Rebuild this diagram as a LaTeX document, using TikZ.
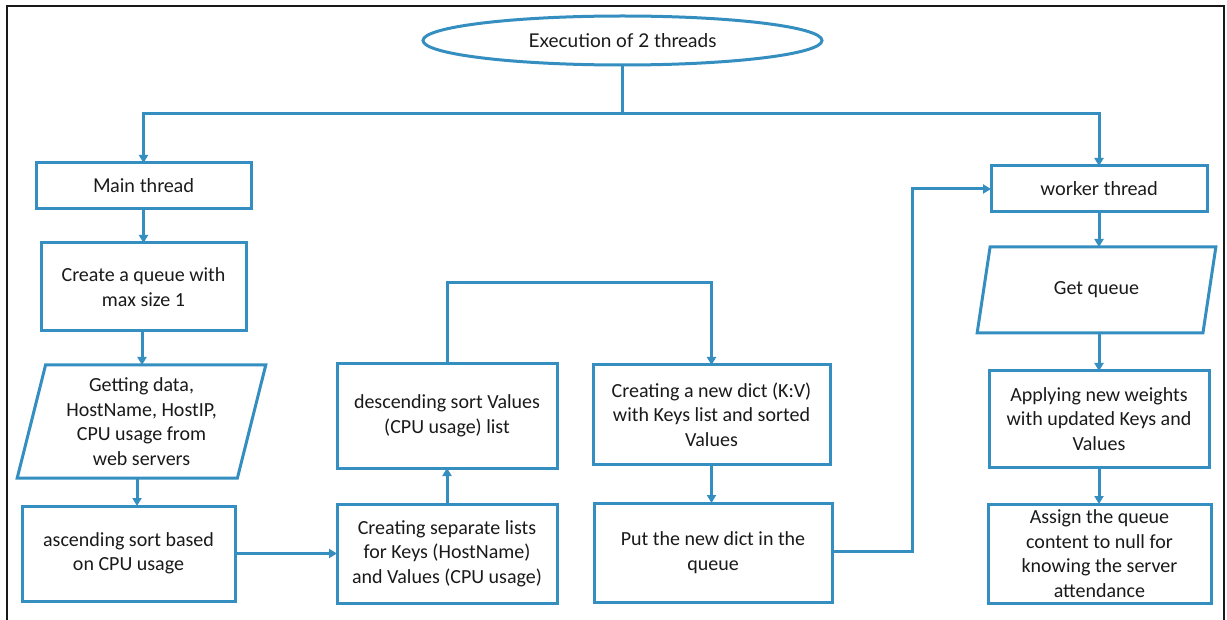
\documentclass[tikz,border=0pt]{standalone}
\usepackage{fontspec}
\setmainfont{Carlito}
\newfontfamily\headfont{Lato}
\usetikzlibrary{shapes.geometric,arrows.meta}
\definecolor{flowblue}{RGB}{52,143,192}
\definecolor{inkgray}{RGB}{26,26,26}
\begin{document}
\begin{tikzpicture}[x=1pt,y=-1pt,
  base/.style={draw=flowblue,line width=3pt,text=inkgray,align=center,
    inner sep=2pt,outer sep=0pt,font=\fontsize{20}{24.5}\selectfont},
  procbox/.style={base,rectangle},
  headbox/.style={base,rectangle,font=\headfont\fontsize{19}{23}\selectfont},
  iobox/.style={base,trapezium,trapezium stretches=true,
    trapezium left angle=#1,trapezium right angle=180-#1},
  startnode/.style={base,ellipse,font=\headfont\fontsize{19}{23}\selectfont},
  flow/.style={draw=flowblue,line width=3pt,-{Triangle[length=8pt,width=9pt]}},
  link/.style={draw=flowblue,line width=3pt}]
\useasboundingbox (0,0) rectangle (1227,620);
\fill[white] (0,0) rectangle (1227,620);
% frame, open at the bottom
\draw[black!90,line width=2pt] (7,620) -- (7,6) -- (1224,6) -- (1224,620);

% start
\node[startnode,minimum width=399pt,minimum height=49pt] (exec) at (622.5,40.5) {Execution of 2 threads};

% main thread column
\node[headbox,minimum width=215pt,minimum height=46pt] (main) at (143.5,186) {Main thread};
\node[procbox,minimum width=205pt,minimum height=88pt] (create) at (143.5,287) {Create a queue with\\max size 1};
\node[iobox=76,minimum width=249pt,minimum height=113pt] (getdata) at (141.5,421.5) {Getting data,\\HostName, HostIP,\\CPU usage from\\web servers};
\node[procbox,minimum width=213pt,minimum height=95pt] (asc) at (128.5,553.5) {ascending sort based\\on CPU usage};

% list handling
\node[procbox,minimum width=220pt,minimum height=99pt] (sep) at (447,553.5) {Creating separate lists\\for Keys (HostName)\\and Values (CPU usage)};
\node[procbox,minimum width=220pt,minimum height=104pt] (desc) at (447,416) {descending sort Values\\(CPU usage) list};
\node[procbox,minimum width=237pt,minimum height=99pt] (dict) at (711.5,414.5) {Creating a new dict (K:V)\\with Keys list and sorted\\Values};
\node[procbox,minimum width=238pt,minimum height=99pt] (put) at (713,552.5) {Put the new dict in the\\queue};

% worker thread column
\node[headbox,minimum width=216pt,minimum height=46pt] (worker) at (1099,189) {worker thread};
\node[iobox=75,minimum width=239pt,minimum height=86pt] (getq) at (1096.5,290) {Get queue};
\node[procbox,minimum width=220pt,minimum height=96pt] (apply) at (1099,419) {Applying new weights\\with updated Keys and\\Values};
\node[procbox,minimum width=223pt,minimum height=99pt] (assign) at (1099.5,553.5) {Assign the queue\\content to null for\\knowing the server\\attendance};

% connectors
\coordinate (split) at (622.5,114);
\draw[link] (exec.south) -- (split);
\draw[flow] (split) -| (main.north);
\draw[flow] (split) -| (worker.north);
\draw[flow] (main.south) -- (main.south |- create.north);
\draw[flow] ([xshift=-1.5pt]create.south) -- ([xshift=-1.5pt]create.south |- getdata.north);
\draw[flow] ([xshift=-4.5pt]getdata.south) -- ([xshift=-4.5pt]getdata.south |- asc.north);
\draw[flow] (asc.east) -- (asc.east -| sep.west);
\draw[flow] (sep.north) -- (desc.south);
\coordinate (loopTop) at (447,283);
\draw[flow] (desc.north) -- (loopTop) -| (dict.north);
\draw[flow] (dict.south) -- (dict.south |- put.north);
\coordinate (bend) at (912,551);
\draw[flow] (put.east |- bend) -- (bend) |- (worker.west);
\draw[flow] (worker.south) -- (worker.south |- getq.north);
\draw[flow] (getq.south -| apply.north) -- (apply.north);
\draw[flow] (apply.south) -- (apply.south |- assign.north);
\end{tikzpicture}
\end{document}
